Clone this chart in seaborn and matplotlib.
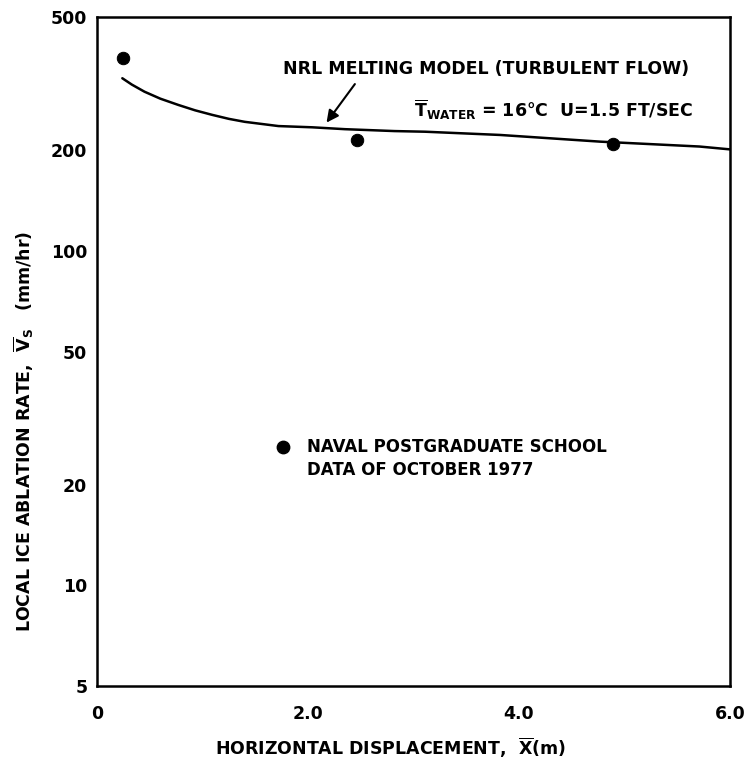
import matplotlib
matplotlib.use("Agg")
import matplotlib.pyplot as plt
import seaborn as sns
import pandas as pd

# ---- data ----
model_x = [0.24, 0.33, 0.45, 0.60, 0.77, 0.93, 1.09, 1.25, 1.40, 1.72, 2.04, 2.35, 2.82, 3.11, 3.82, 4.77, 5.71, 6.0]
model_y = [328, 314, 299, 285, 273, 263, 255, 248, 243, 236, 234, 231, 228, 227, 222, 212, 205, 201]

data_x = [0.25, 2.46, 4.89]
data_y = [376, 214, 208]

x_ticks = [0, 2, 4, 6]
x_tick_labels = ["0", "2.0", "4.0", "6.0"]
y_ticks = [5, 10, 20, 50, 100, 200, 500]
y_tick_labels = ["5", "10", "20", "50", "100", "200", "500"]

model_label = "NRL MELTING MODEL (TURBULENT FLOW)"
cond_label = r"$\overline{\mathrm{T}}_{\mathrm{WATER}}$" + " = 16\u00b0C  U=1.5 FT/SEC"
legend_lines = ["NAVAL POSTGRADUATE SCHOOL", "DATA OF OCTOBER 1977"]
xlabel = r"HORIZONTAL DISPLACEMENT,  $\overline{\mathrm{X}}$(m)"
ylabel = r"LOCAL ICE ABLATION RATE,  $\overline{\mathrm{V}}_{\mathrm{S}}$   (mm/hr)"

sns.set_theme(style="white")
plt.rcParams["font.family"] = ["DejaVu Sans"]
plt.rcParams["text.color"] = "black"
plt.rcParams["axes.labelcolor"] = "black"
plt.rcParams["mathtext.fontset"] = "custom"
plt.rcParams["mathtext.rm"] = "DejaVu Sans:bold"
plt.rcParams["mathtext.it"] = "DejaVu Sans:bold"
plt.rcParams["mathtext.bf"] = "DejaVu Sans:bold"

fig = plt.figure(figsize=(7.5, 7.61), dpi=100)
ax = fig.add_axes([97/750, 1 - 686/761, (730-97)/750, (686-17)/761])

model_df = pd.DataFrame({"x": model_x, "y": model_y})
data_df = pd.DataFrame({"x": data_x, "y": data_y})

sns.lineplot(data=model_df, x="x", y="y", ax=ax, color="black", linewidth=1.8, sort=True)
sns.scatterplot(data=data_df, x="x", y="y", ax=ax, color="black", s=80, edgecolor="black", zorder=5)

ax.set_yscale("log")
ax.set_xlim(0, 6)
ax.set_ylim(5, 500)
ax.set_xticks(x_ticks)
ax.set_xticklabels(x_tick_labels)
ax.set_yticks(y_ticks)
ax.set_yticklabels(y_tick_labels)
ax.minorticks_off()

for s in ax.spines.values():
    s.set_color("black")
    s.set_linewidth(1.8)

ax.tick_params(axis="both", which="major", direction="in", length=8, width=1.6,
               colors="black", labelsize=12.5)
ax.tick_params(axis="x", pad=14)
ax.tick_params(axis="y", pad=7)
for lab in ax.get_xticklabels() + ax.get_yticklabels():
    lab.set_fontweight("bold")

ax.set_xlabel(xlabel, fontsize=12.5, fontweight="bold", color="black")
ax.xaxis.set_label_coords(0.463, -0.074)
ax.set_ylabel(ylabel, fontsize=12.5, fontweight="bold", color="black")
ax.yaxis.set_label_coords(-0.096, 0.38)

ax.text(1.76, 349, model_label, fontsize=12.5, fontweight="bold", va="center", ha="left")
ax.annotate("", xy=(2.16, 238), xytext=(2.46, 320),
            arrowprops=dict(arrowstyle="-|>", color="black", lw=1.5, mutation_scale=18))
ax.text(3.0, 251, cond_label, fontsize=12.5, fontweight="bold", va="baseline", ha="left")

ax.scatter([1.76], [25.9], s=80, color="black", zorder=5)
ax.text(1.99, 25.9, legend_lines[0], fontsize=12, fontweight="bold", va="center", ha="left")
ax.text(1.99, 22.1, legend_lines[1], fontsize=12, fontweight="bold", va="center", ha="left")

fig.savefig("out.png", dpi=100, facecolor="white")
